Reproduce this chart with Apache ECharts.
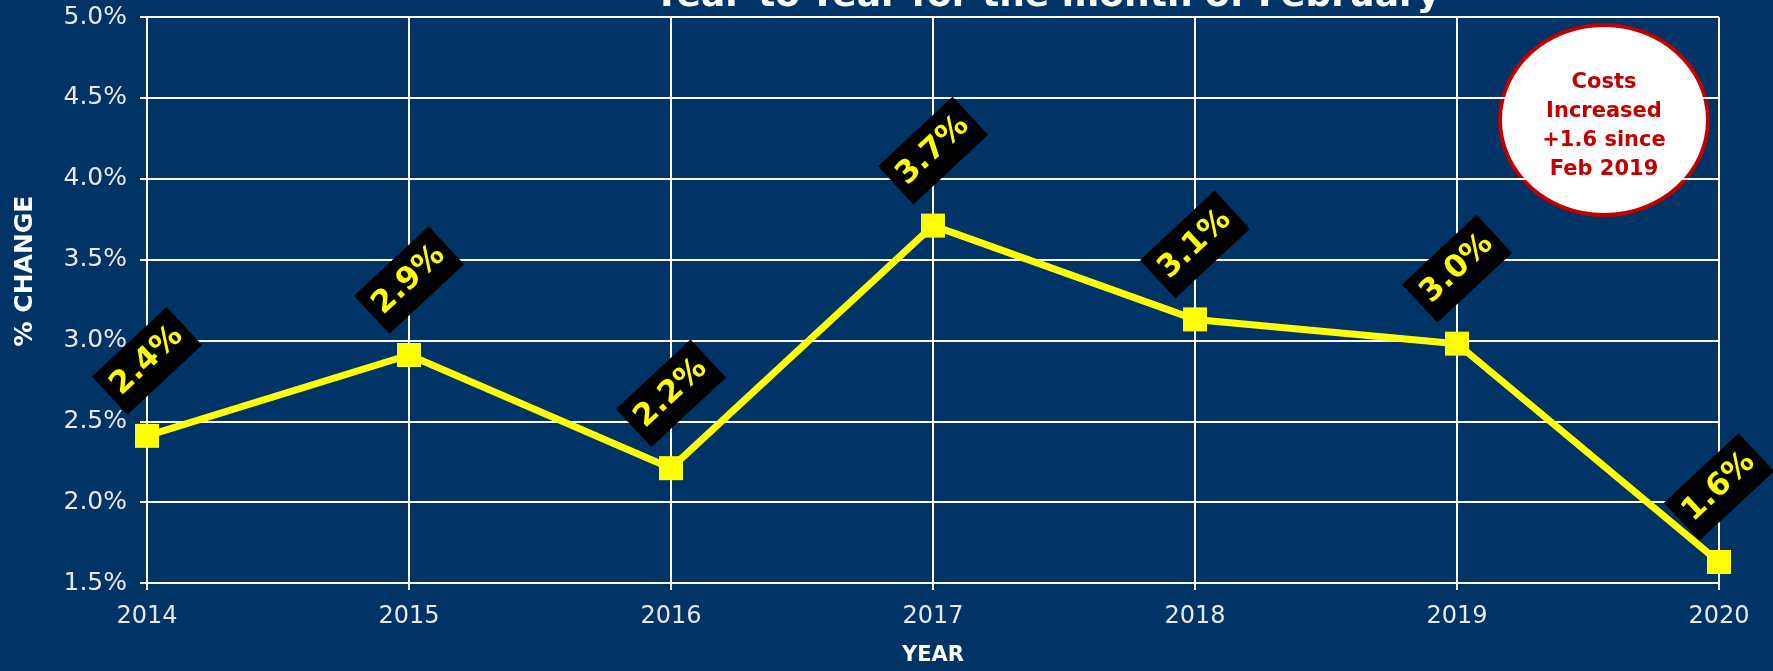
<!DOCTYPE html>
<html>
<head>
<meta charset="utf-8">
<title>Year-to-Year for the month of February</title>
<script src="https://cdn.jsdelivr.net/npm/echarts@6/dist/echarts.min.js"></script>
<style>
  html, body { margin: 0; padding: 0; background: #003366; }
  #chart { width: 1773px; height: 671px; }
</style>
</head>
<body>
<div id="chart"></div>
<script>
const years = ['2014', '2015', '2016', '2017', '2018', '2019', '2020']
const changes = [2.41, 2.91, 2.21, 3.71, 3.13, 2.98, 1.63]
const calloutLines = ['Costs', 'Increased', '+1.6 since', 'Feb 2019']

const bg = '#003366'
const yellow = '#ffff00'
const red = '#c00000'
const font = 'DejaVu Sans'

// label boxes sit straight above each point, rotated; offset is given in the rotated frame
const labelAngle = 43
const labelLift = 75
const rad = labelAngle * Math.PI / 180
const labelOffset = [labelLift * Math.sin(rad), -labelLift * Math.cos(rad)]

const chart = echarts.init(document.getElementById('chart'))

chart.setOption({
  backgroundColor: bg,
  animation: false,
  grid: {
    left: 147,
    right: 54,
    top: 17,
    bottom: 88
  },
  xAxis: {
    type: 'category',
    data: years,
    boundaryGap: false,
    name: 'YEAR',
    nameLocation: 'middle',
    nameGap: 62,
    nameTextStyle: { color: '#fff', fontFamily: font, fontWeight: 'bold', fontSize: 21 },
    axisLine: { lineStyle: { color: '#fff', width: 2 } },
    axisTick: { show: true, length: 7, lineStyle: { color: '#fff', width: 2 } },
    axisLabel: { color: '#e8e8e8', fontFamily: font, fontSize: 24, margin: 22 },
    splitLine: { show: true, lineStyle: { color: '#fff', width: 2 } }
  },
  yAxis: {
    type: 'value',
    min: 1.5,
    max: 5,
    interval: 0.5,
    axisLine: { show: true, lineStyle: { color: '#fff', width: 2 } },
    axisTick: { show: true, length: 7, lineStyle: { color: '#fff', width: 2 } },
    axisLabel: {
      color: '#e8e8e8', fontFamily: font, fontSize: 25, margin: 20,
      formatter: v => v.toFixed(1) + '%'
    },
    splitLine: { show: true, lineStyle: { color: '#fff', width: 2 } }
  },
  series: [{
    type: 'line',
    data: changes,
    symbol: 'rect',
    symbolSize: 24,
    itemStyle: { color: yellow },
    lineStyle: { color: yellow, width: 7 },
    label: {
      show: true,
      position: 'inside',
      offset: labelOffset,
      rotate: labelAngle,
      formatter: p => p.value.toFixed(1) + '%',
      color: yellow,
      backgroundColor: '#000',
      fontFamily: font,
      fontWeight: 'bold',
      fontSize: 31,
      lineHeight: 30,
      padding: [11, 8]
    }
  }],
  graphic: [
    // title, mostly cut off at the top edge
    {
      type: 'text',
      x: 1047,
      y: 15,
      style: {
        text: 'Year-to-Year for the month of February',
        align: 'center',
        verticalAlign: 'bottom',
        fill: '#fff',
        font: 'bold 36px "DejaVu Sans"'
      }
    },
    // y axis name
    {
      type: 'text',
      x: 25,
      y: 271,
      rotation: Math.PI / 2,
      style: {
        text: '% CHANGE',
        align: 'center',
        verticalAlign: 'middle',
        fill: '#fff',
        font: 'bold 25px "DejaVu Sans"'
      }
    },
    // callout bubble
    {
      type: 'ellipse',
      shape: { cx: 1604, cy: 120, rx: 104, ry: 95 },
      style: { fill: '#fff', stroke: red, lineWidth: 4 }
    },
    {
      type: 'text',
      x: 1604,
      y: 126,
      style: {
        text: calloutLines.join('\n'),
        align: 'center',
        verticalAlign: 'middle',
        fill: red,
        lineHeight: 29,
        font: 'bold 21px "DejaVu Sans"'
      }
    }
  ]
})
</script>
</body>
</html>
